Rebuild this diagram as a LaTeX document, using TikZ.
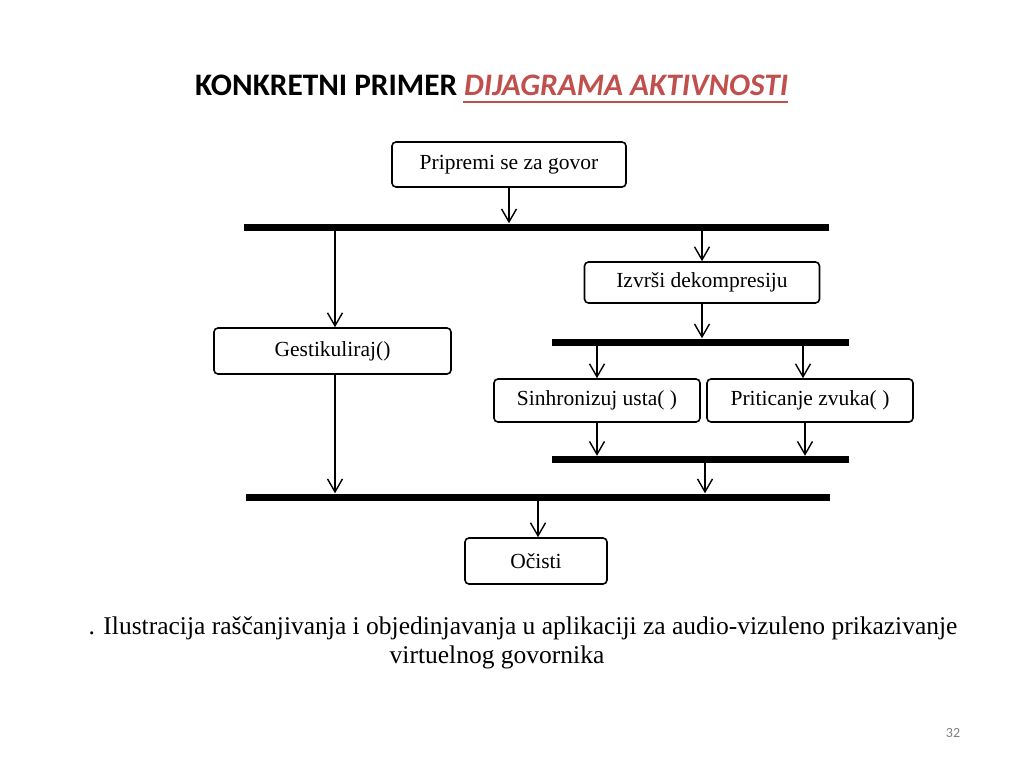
\documentclass[tikz,border=0pt]{standalone}
\usepackage{fontspec}
\setmainfont{Liberation Serif}
\newfontfamily\calibri{Carlito}
\usetikzlibrary{arrows.meta}
\definecolor{titlered}{HTML}{C0504D}
\begin{document}
\begin{tikzpicture}[x=1pt,y=-1pt,
  act/.style={draw,line width=1.6pt,rounded corners=4pt,inner sep=0pt,
    font=\fontsize{21.5}{24}\selectfont},
  bar/.style={fill=black,inner sep=0pt,minimum height=7pt},
  arr/.style={line width=1.4pt,-{Straight Barb[length=13pt,width=15pt,line width=1.4pt]}}]
\useasboundingbox (0,0) rectangle (1024,768);
% title
\node[anchor=base west,inner sep=0pt,font=\calibri\bfseries\fontsize{31.3}{36}\selectfont] (title) at (195,95)
  {KONKRETNI PRIMER \textcolor{titlered}{\itshape DIJAGRAMA AKTIVNOSTI}};
\draw[titlered,line width=2pt] (463,102) -- (title.east |- 0,102);
% activities
\node[act,minimum width=234pt,minimum height=45pt] (p) at (509,164.5) {Pripremi se za govor};
\node[act,minimum width=237pt,minimum height=46pt] (g) at (332.5,351) {Gestikuliraj()};
\node[act,minimum width=235pt,minimum height=41pt] (i) at (702,282.5) {Izvrši dekompresiju};
\node[act,minimum width=206pt,minimum height=43pt] (s) at (597,400.5) {Sinhronizuj usta( )};
\node[act,minimum width=206pt,minimum height=43pt] (r) at (810,400.5) {Priticanje zvuka( )};
\node[act,minimum width=142pt,minimum height=46pt] (o) at (536,561) {Očisti};
% bars
\node[bar,minimum width=585pt] (b1) at (536.5,227) {};
\node[bar,minimum width=297pt] (b2) at (700.5,342) {};
\node[bar,minimum width=297pt] (b3) at (700.5,459.5) {};
\node[bar,minimum width=584pt] (b4) at (538,497) {};
% connectors
\draw[arr] (p.south) -- (p.south |- b1.north);
\draw[arr] ([xshift=2.5pt]g.north |- b1.south) -- ([xshift=2.5pt]g.north);
\draw[arr] (i.north |- b1.south) -- (i.north);
\draw[arr] (i.south) -- (i.south |- b2.north);
\draw[arr] (s.north |- b2.south) -- (s.north);
\draw[arr] ([xshift=-7pt]r.north |- b2.south) -- ([xshift=-7pt]r.north);
\draw[arr] (s.south) -- (s.south |- b3.north);
\draw[arr] ([xshift=-5pt]r.south) -- ([xshift=-5pt]r.south |- b3.north);
\draw[arr] ([xshift=4.5pt]b3.south) -- ([xshift=4.5pt]b3.south |- b4.north);
\draw[arr] ([xshift=2.5pt]g.south) -- ([xshift=2.5pt]g.south |- b4.north);
\draw[arr] ([xshift=2pt]o.north |- b4.south) -- ([xshift=2pt]o.north);
% caption
\node[inner sep=0pt,font=\fontsize{25.5}{29}\selectfont] (c1) at (523,628)
  {. Ilustracija raščanjivanja i objedinjavanja u aplikaciji za audio-vizuleno prikazivanje};
\node[inner sep=0pt,font=\fontsize{25.5}{29}\selectfont] (c2) at (497,657) {virtuelnog govornika};
\node[inner sep=0pt,text=gray,font=\calibri\fontsize{14}{16}\selectfont] (pg) at (953,733) {32};
\end{tikzpicture}
\end{document}
